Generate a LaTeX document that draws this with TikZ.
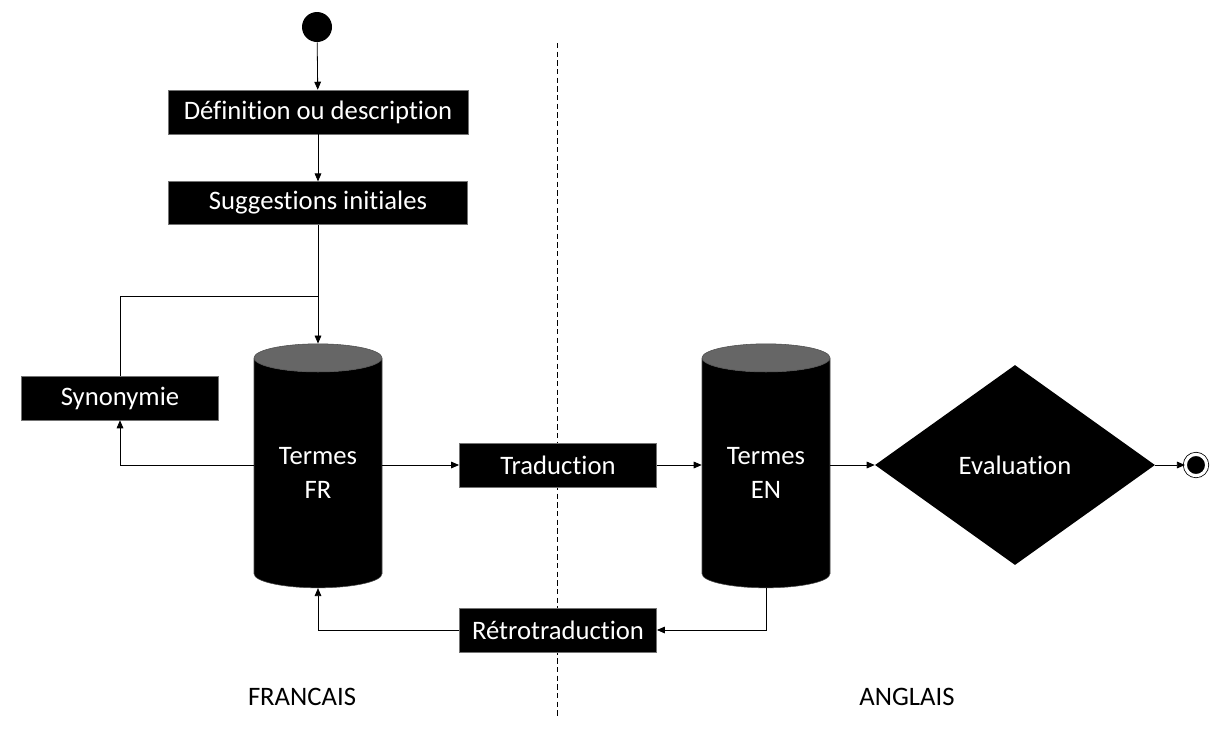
\documentclass[tikz,border=0pt]{standalone}
\usepackage{fontspec}
\setmainfont[Ligatures=NoCommon]{Carlito}
\usetikzlibrary{shapes.geometric,arrows.meta}

\tikzset{
  etape/.style={rectangle, fill=black, draw=black!55, text=white, inner sep=0pt,
    minimum width=148pt, minimum height=33pt, font=\fontsize{20}{24}\selectfont},
  base/.style={cylinder, shape border rotate=90, shape aspect=0.36,
    cylinder uses custom fill, cylinder body fill=black, cylinder end fill=black!60,
    draw=black!70, text=white, align=center, inner sep=0pt,
    minimum width=96pt, minimum height=183pt, font=\fontsize{20}{26}\selectfont},
  fleche/.style={-{Triangle[length=6pt,width=5pt]}, line width=0.6pt},
  ligne/.style={line width=0.6pt},
}

\begin{document}
\begin{tikzpicture}[x=0.75pt, y=-0.75pt]
  \useasboundingbox (0,0) rectangle (1224,733);

  % Separation des langues
  \coordinate (hautsep) at (557,43);
  \coordinate (bassep) at (557,718);
  \draw[dash pattern=on 4pt off 2.5pt, line width=0.6pt] (hautsep) -- (bassep);

  % Debut et fin
  \node[circle, fill=black, minimum size=22.5pt, inner sep=0pt] (debut) at (317,27) {};
  \node[circle, fill=black, draw=black, line width=0.6pt, double=white, double distance=2.4pt,
        minimum size=16pt, inner sep=0pt] (fin) at (1196,465) {};

  % Etapes
  \node[etape, minimum width=225pt] (definition) at (318,112) {Définition ou description};
  \node[etape, minimum width=224pt, minimum height=32pt] (suggestions) at (318,203) {Suggestions initiales};
  \node[etape] (synonymie) at (120,398) {Synonymie};
  \node[etape] (traduction) at (558,465) {Traduction};
  \node[etape] (retro) at (558,630) {Rétrotraduction};

  % Bases de termes
  \node[base] (termesfr) at (318,473) {Termes\\FR};
  \node[base] (termesen) at (766,473) {Termes\\EN};

  % Decision
  \node[diamond, fill=black, text=white, inner sep=0pt, minimum width=210pt, minimum height=150pt,
        font=\fontsize{20}{24}\selectfont] (evaluation) at (1015,465) {Evaluation};

  % Langues
  \node[font=\fontsize{20}{24}\selectfont] (francais) at (302,697) {FRANCAIS};
  \node[font=\fontsize{20}{24}\selectfont] (anglais) at (907,697) {ANGLAIS};

  % Fleches
  \coordinate (coin) at (318,296);
  \draw[fleche] (debut) -- (definition);
  \draw[fleche] (definition) -- (suggestions);
  \draw[fleche] (suggestions) -- (termesfr.top);
  \draw[ligne] (synonymie.north) |- (coin);
  \draw[fleche] (termesfr.west |- 0,465) -| (synonymie.south);
  \draw[fleche] (termesfr.east |- 0,465) -- (traduction);
  \draw[fleche] (traduction) -- (termesen.west |- 0,465);
  \draw[fleche] (termesen.east |- 0,465) -- (evaluation);
  \draw[fleche] (evaluation) -- (fin);
  \draw[fleche] (termesen.bottom) |- (retro);
  \draw[fleche] (retro) -| (termesfr.bottom);
\end{tikzpicture}
\end{document}
